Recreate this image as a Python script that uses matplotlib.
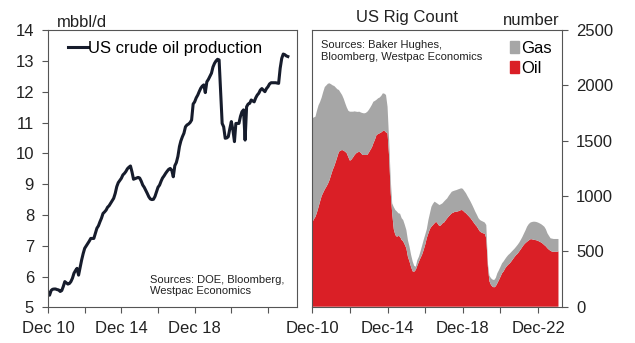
import numpy as np
import pandas as pd
import matplotlib
matplotlib.use('Agg')
import matplotlib.pyplot as plt
from matplotlib.patches import Patch
from matplotlib.lines import Line2D

plt.rcParams['font.family'] = ['Liberation Sans', 'DejaVu Sans']

months = pd.date_range('2010-12-01', '2024-01-01', freq='MS')

# US crude oil production, mbbl/d (Dec 2010 .. Jan 2024)
crude_prod = [5.50,
    5.40, 5.55, 5.59, 5.60, 5.60, 5.58, 5.57, 5.52, 5.55, 5.68, 5.84, 5.80,
    5.76, 5.78, 5.84, 5.95, 6.11, 6.20, 6.27, 6.05, 6.30, 6.54, 6.75, 6.92,
    7.00, 7.08, 7.15, 7.24, 7.24, 7.24, 7.40, 7.57, 7.65, 7.78, 7.90, 8.05,
    8.10, 8.16, 8.25, 8.30, 8.38, 8.46, 8.54, 8.70, 8.92, 9.05, 9.12, 9.19,
    9.30, 9.35, 9.41, 9.50, 9.55, 9.59, 9.40, 9.16, 9.18, 9.20, 9.22, 9.20,
    9.10, 8.97, 8.90, 8.80, 8.70, 8.59, 8.52, 8.50, 8.51, 8.60, 8.75, 8.90,
    8.97, 9.10, 9.20, 9.27, 9.35, 9.42, 9.48, 9.51, 9.45, 9.24, 9.60, 9.70,
    9.90, 10.22, 10.40, 10.54, 10.65, 10.86, 10.92, 10.95, 11.00, 11.08, 11.60, 11.67,
    11.80, 11.89, 12.00, 12.11, 12.18, 12.22, 11.97, 12.32, 12.40, 12.50, 12.60, 12.80,
    12.92, 13.00, 13.05, 13.03, 12.05, 10.97, 10.86, 10.49, 10.50, 10.54, 10.80, 11.03,
    10.76, 10.38, 10.97, 10.97, 10.97, 11.20, 11.35, 11.41, 10.43, 11.51, 11.60, 11.62,
    11.73, 11.70, 11.67, 11.80, 11.89, 11.95, 12.05, 12.10, 12.05, 12.00, 12.10, 12.16,
    12.25, 12.29, 12.29, 12.29, 12.29, 12.28, 12.27, 12.76, 13.08, 13.22, 13.20, 13.16,
    13.14]

# Baker Hughes rig counts (Dec 2010 .. Jan 2024)
oil_rigs = [760,
    790, 813, 850, 900, 950, 1000, 1030, 1060, 1084, 1110, 1145, 1190,
    1235, 1270, 1310, 1355, 1400, 1410, 1416, 1410, 1400, 1386, 1350, 1319,
    1330, 1350, 1370, 1386, 1395, 1400, 1390, 1371, 1371, 1371, 1371, 1390,
    1416, 1440, 1476, 1510, 1551, 1560, 1567, 1575, 1587, 1590, 1575, 1567,
    1355, 1025, 844, 700, 648, 632, 640, 632, 603, 590, 560, 528,
    450, 407, 360, 320, 316, 332, 370, 407, 440, 470, 512, 560,
    620, 663, 700, 723, 738, 754, 768, 750, 729, 735, 753, 760,
    780, 799, 815, 830, 844, 850, 858, 858, 862, 868, 874, 870,
    855, 844, 830, 815, 799, 780, 760, 740, 723, 700, 678, 670,
    663, 660, 618, 361, 230, 196, 180, 175, 185, 211, 240, 270,
    302, 320, 345, 365, 380, 392, 410, 430, 450, 467, 480, 500,
    520, 542, 560, 575, 587, 598, 609, 610, 605, 603, 600, 595,
    587, 580, 570, 557, 545, 528, 515, 505, 497, 497, 497, 497,
    500]
total_rigs = [1702,
    1710, 1717, 1770, 1820, 1850, 1890, 1940, 1985, 2000, 2015, 2018, 2010,
    2000, 1994, 1980, 1965, 1958, 1935, 1913, 1880, 1838, 1800, 1770, 1762,
    1762, 1762, 1765, 1762, 1760, 1762, 1755, 1750, 1747, 1750, 1760, 1777,
    1800, 1825, 1852, 1860, 1870, 1883, 1890, 1905, 1928, 1925, 1913, 1807,
    1500, 1145, 934, 900, 874, 860, 844, 840, 800, 783, 740, 693,
    600, 542, 470, 410, 370, 361, 420, 452, 500, 550, 603, 650,
    700, 783, 840, 903, 930, 949, 940, 930, 919, 925, 934, 950,
    965, 979, 1000, 1020, 1039, 1045, 1050, 1054, 1060, 1065, 1070, 1065,
    1045, 1025, 1000, 975, 949, 920, 890, 858, 830, 800, 783, 775,
    768, 760, 738, 392, 280, 257, 245, 241, 260, 302, 330, 360,
    392, 410, 430, 450, 467, 480, 495, 510, 525, 542, 560, 580,
    605, 632, 660, 690, 723, 745, 759, 765, 768, 768, 765, 760,
    753, 745, 735, 723, 700, 663, 640, 618, 615, 612, 612, 612,
    612]
gas_rigs = np.array(total_rigs) - np.array(oil_rigs)

tick_dates = pd.date_range('2010-12-01', '2022-12-01', freq='24MS')
left_labels = ['Dec 10', '', 'Dec 14', '', 'Dec 18', '', '']
right_labels = ['Dec-10', '', 'Dec-14', '', 'Dec-18', '', 'Dec-22']

red = '#da1f26'
grey = '#a6a6a6'
txt = '#222222'
frame = '#555555'

fig = plt.figure(figsize=(6.35, 3.43), dpi=100)
ax1 = fig.add_axes([0.0756, 0.1035, 0.3921, 0.809])
ax2 = fig.add_axes([0.4918, 0.1058, 0.3937, 0.8067])

# left: crude production
ax1.plot(months, crude_prod, color='#161c2c', lw=2.2)
ax1.set_ylim(5, 14)
ax1.set_yticks(range(5, 15))
ax1.set_xlim(pd.Timestamp('2010-12-01'), pd.Timestamp('2024-07-01'))
ax1.set_xticks(tick_dates)
ax1.set_xticklabels(left_labels)
ax1.legend(handles=[Line2D([], [], color='#161c2c', lw=2.2)],
           labels=['US crude oil production'], loc='upper left',
           bbox_to_anchor=(0.035, 1.0), frameon=False, fontsize=12,
           handlelength=1.2, handletextpad=0.05, borderaxespad=0.25)
ax1.text(0.41, 0.079, 'Sources: DOE, Bloomberg,\nWestpac Economics',
         transform=ax1.transAxes, fontsize=8, color=txt, va='center',
         linespacing=1.15)
fig.text(56.5 / 635, 1 - 26.7 / 343, 'mbbl/d', fontsize=12, color=txt,
         va='baseline')

# right: rig count
ax2.stackplot(months, oil_rigs, gas_rigs, colors=[red, grey], lw=0)
ax2.set_ylim(0, 2500)
ax2.set_yticks(range(0, 2501, 500))
ax2.yaxis.tick_right()
ax2.set_xlim(pd.Timestamp('2010-12-01'), pd.Timestamp('2024-03-15'))
ax2.set_xticks(tick_dates)
ax2.set_xticklabels(right_labels)
ax2.legend(handles=[Patch(color=grey), Patch(color=red)], labels=['Gas', 'Oil'],
           loc='upper right', bbox_to_anchor=(1.0, 1.0), frameon=False,
           fontsize=12, handlelength=0.55, handleheight=0.7,
           handletextpad=0.1, labelspacing=0.3, borderaxespad=0.25)
ax2.text(0.034, 0.924, 'Sources: Baker Hughes,\nBloomberg, Westpac Economics',
         transform=ax2.transAxes, fontsize=8, color=txt, va='center',
         linespacing=1.15)
fig.text(407 / 635, 1 - 21.7 / 343, 'US Rig Count', fontsize=12, color=txt,
         ha='center', va='baseline')
fig.text(560 / 635, 1 - 25 / 343, 'number', fontsize=12, color=txt,
         ha='right', va='baseline')

for ax in (ax1, ax2):
    for s in ax.spines.values():
        s.set_color(frame)
        s.set_linewidth(0.8)
    ax.tick_params(direction='out', length=4, width=0.8, color=frame,
                   labelsize=12, labelcolor=txt, pad=6)

fig.savefig('out.png', dpi=100)
